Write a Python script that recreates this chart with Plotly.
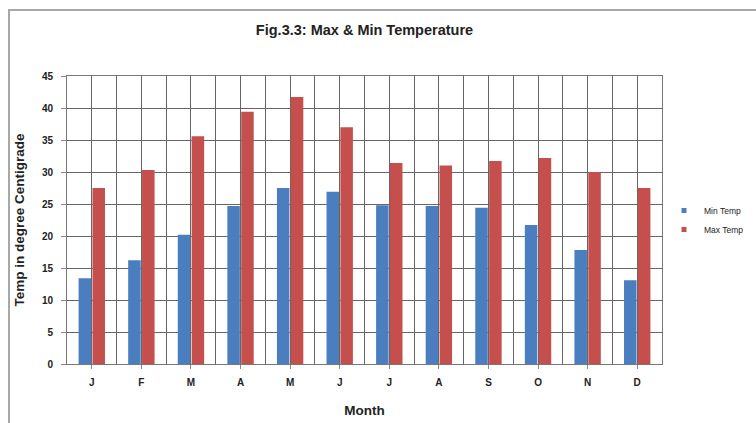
import plotly.graph_objects as go

# Monthly temperatures (degrees Centigrade)
months = ["J", "F", "M", "A", "M", "J", "J", "A", "S", "O", "N", "D"]
min_temp = [13.4, 16.2, 20.2, 24.7, 27.5, 26.9, 24.8, 24.7, 24.4, 21.7, 17.8, 13.1]
max_temp = [27.5, 30.3, 35.6, 39.4, 41.7, 37.0, 31.4, 31.0, 31.7, 32.2, 30.0, 27.5]
series_names = ["Min Temp", "Max Temp"]
series_colors = ["#4A7EBF", "#C44F4C"]
y_ticks = list(range(0, 50, 5))

# month labels repeat, so place the bars on a numeric axis and label the ticks
x_pos = list(range(len(months)))

FONT = "Liberation Sans, Arial, sans-serif"
GRID = "#666666"

fig = go.Figure()
for name, color, vals in zip(series_names, series_colors, [min_temp, max_temp]):
    fig.add_trace(go.Bar(x=x_pos, y=vals, name=name, showlegend=False,
                         marker=dict(color=color, line=dict(width=0))))
# compact square legend keys
for name, color in zip(series_names, series_colors):
    fig.add_trace(go.Scatter(x=[None], y=[None], mode="markers", name=name,
                             marker=dict(symbol="square", size=5, color=color)))

fig.update_layout(
    width=756, height=423,
    margin=dict(l=67, r=94, t=76, b=59, autoexpand=False),
    paper_bgcolor="white", plot_bgcolor="white",
    barmode="group", bargap=0.44, bargroupgap=0.1,
    font=dict(family=FONT, color="#222", size=9),
    title=dict(text="<b>Fig.3.3: Max & Min Temperature</b>",
               x=0.5, xanchor="center", xref="paper",
               y=1 - 30 / 423, yanchor="middle",
               font=dict(size=14.5, family=FONT, color="#222")),
    legend=dict(xref="container", x=664 / 756, xanchor="left",
                y=0.5, yanchor="middle",
                font=dict(size=8.5, family=FONT, color="#222"),
                itemwidth=30, tracegroupgap=6, bgcolor="rgba(0,0,0,0)"),
    showlegend=True,
)

fig.update_xaxes(
    range=[-0.5, len(months) - 0.5],
    tickmode="array", tickvals=x_pos, ticktext=[f"<b>{m}</b>" for m in months],
    showgrid=True, gridcolor=GRID, gridwidth=1,
    minor=dict(tickmode="array", tickvals=[i - 0.5 for i in range(len(months) + 1)],
               showgrid=True, gridcolor=GRID, gridwidth=1),
    showline=True, linecolor="#777", linewidth=1, mirror=True,
    ticks="outside", ticklen=4, tickcolor="#888", ticklabelstandoff=5,
    tickfont=dict(size=10, family=FONT, color="#222"),
    title=dict(text="<b>Month</b>", standoff=18,
               font=dict(size=13.5, family=FONT, color="#222")),
    zeroline=False,
)
fig.update_yaxes(
    range=[0, 45],
    tickmode="array", tickvals=y_ticks, ticktext=[f"<b>{v}</b>" for v in y_ticks],
    showgrid=True, gridcolor=GRID, gridwidth=1,
    showline=True, linecolor="#777", linewidth=1, mirror=True,
    ticks="outside", ticklen=5, tickcolor="#888", ticklabelstandoff=6,
    tickfont=dict(size=10, family=FONT, color="#222"),
    title=dict(text="<b>Temp in degree Centigrade</b>", standoff=14,
               font=dict(size=13.5, family=FONT, color="#222")),
    zeroline=False,
)

# chart-area border (runs off the right and bottom edges)
fig.add_shape(type="rect", xref="paper", yref="paper",
              x0=-58 / 595, x1=1.3, y0=-0.4, y1=1 + 66 / 288,
              line=dict(color="#a8a8a8", width=2), fillcolor="rgba(0,0,0,0)",
              layer="below")

fig.write_html("out.html")
